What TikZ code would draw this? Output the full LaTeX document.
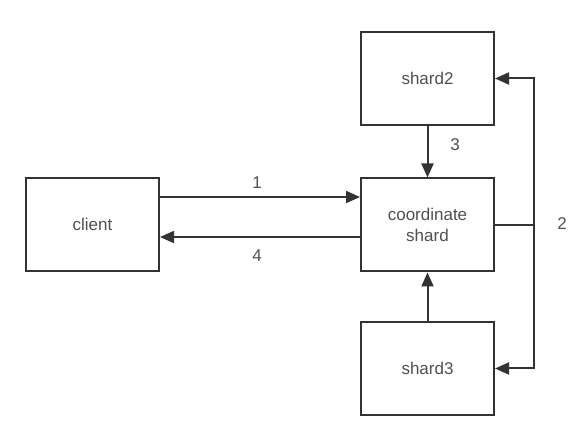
\documentclass[tikz,border=0pt]{standalone}
\usepackage{fontspec}
\setmainfont{Liberation Sans}
\usetikzlibrary{arrows.meta}

\definecolor{linegray}{RGB}{51,51,51}
\definecolor{textgray}{RGB}{80,80,80}

\tikzset{
    box/.style={draw=linegray, line width=2pt, fill=white,
        minimum width=133pt, minimum height=93pt, inner sep=0pt,
        text=textgray, align=center, font=\fontsize{17}{21}\selectfont},
    link/.style={draw=linegray, line width=2pt,
        -{Triangle[length=14pt,width=12pt]}},
    lbl/.style={text=textgray, font=\fontsize{17}{21}\selectfont}
}

\begin{document}
\begin{tikzpicture}[x=1pt,y=-1pt]
    \useasboundingbox (0,0) rectangle (579,438);

    % Блоки
    \node[box] (client) at (92.5,224.5) {client};
    \node[box] (coord)  at (427.5,225)  {coordinate\\shard};
    \node[box] (shard2) at (427.5,78.5) {shard2};
    \node[box] (shard3) at (427.5,368.5) {shard3};

    % Запрос и ответ
    \draw[link] (client.east |- 0,197) -- (coord.west |- 0,197);
    \draw[link] (coord.west |- 0,237) -- (client.east |- 0,237);
    \node[lbl] (n1) at (257,183) {1};
    \node[lbl] (n4) at (257,256) {4};

    % Рассылка по шардам
    \draw[draw=linegray, line width=2pt] (coord.east) -- ++(39,0) coordinate (j);
    \draw[link] (j) |- (shard2.east);
    \draw[link] (j) |- (shard3.east);
    \node[lbl] (n2) at (562,224) {2};

    % Ответы шардов
    \draw[link] (shard2.south) -- (coord.north);
    \draw[link] (shard3.north) -- (coord.south);
    \node[lbl] (n3) at (455,145) {3};

\end{tikzpicture}
\end{document}
